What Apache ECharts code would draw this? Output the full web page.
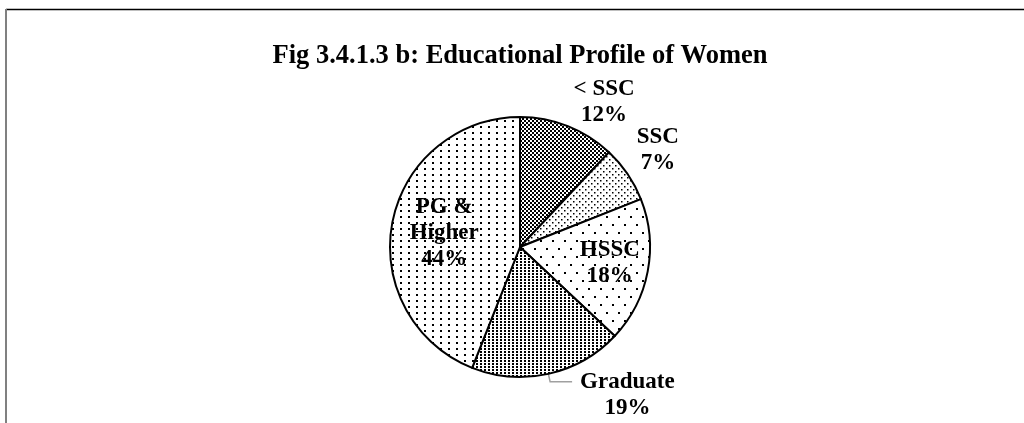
<!DOCTYPE html>
<html><head><meta charset="utf-8">
<script src="https://cdn.jsdelivr.net/npm/echarts@6/dist/echarts.min.js"></script>
<style>html,body{margin:0;padding:0;background:#fff}#c{width:1024px;height:423px}</style>
</head><body><div id="c"></div>
<script>
const titleText = 'Fig 3.4.1.3 b: Educational Profile of Women';
const categories = ['< SSC', 'SSC', 'HSSC', 'Graduate', 'PG & Higher'];
const labelLines = [['< SSC'], ['SSC'], ['HSSC'], ['Graduate'], ['PG &', 'Higher']];
const values = [12, 7, 18, 19, 44];

function makePattern(w, h, bg, dots) {
  const c = document.createElement('canvas');
  c.width = w; c.height = h;
  const g = c.getContext('2d');
  g.fillStyle = bg; g.fillRect(0, 0, w, h);
  g.fillStyle = '#000';
  dots.forEach(d => g.fillRect(d[0], d[1], d[2], d[3]));
  return { image: c, repeat: 'repeat' };
}
const patterns = [
  makePattern(4, 4, '#fff', [[0, 0, 2, 2], [2, 2, 2, 2], [1, 1, 1, 1]]),
  makePattern(6, 6, '#fff', [[0, 0, 1.5, 1.5], [3, 3, 1.5, 1.5]]),
  makePattern(12, 16, '#fff', [[0, 0, 2, 2], [6, 8, 2, 2]]),
  makePattern(4, 3, '#fff', [[0, 0, 2, 2]]),
  makePattern(8, 6, '#fff', [[0, 0, 2, 2]])
];
const labelSetup = [
  { position: 'outside', offset: [0, -15], lineShow: false, len: 10, len2: 0, dist: 2 },
  { position: 'outside', offset: [0, -18], lineShow: false, len: 10, len2: 0, dist: 1 },
  { position: 'inside', offset: [23, 3] },
  { position: 'outside', offset: [0, 13], lineShow: true, len: 8, len2: 22, dist: 8 },
  { position: 'inside', offset: [-9, -1] }
];

const font = { fontFamily: 'Liberation Serif', fontWeight: 'bold', fontSize: 23, lineHeight: 26, color: '#000' };

const data = categories.map((name, i) => {
  const s = labelSetup[i];
  const item = {
    name: name,
    value: values[i],
    itemStyle: { color: patterns[i], borderColor: '#000', borderWidth: 2 },
    label: {
      position: s.position,
      offset: s.offset,
      formatter: () => labelLines[i].concat([values[i] + '%']).map(t => '{c|' + t + '}').join('\n'),
      rich: { c: Object.assign({ align: 'center' }, font) }
    }
  };
  if (s.position === 'outside') {
    item.label.distanceToLabelLine = s.dist;
    item.labelLine = { show: s.lineShow, length: s.len, length2: s.len2, lineStyle: { color: '#a0a0a0', width: 1.5 } };
  }
  return item;
});

const chart = echarts.init(document.getElementById('c'), null, { renderer: 'canvas' });
chart.setOption({
  animation: false,
  backgroundColor: '#fff',
  title: {
    text: titleText,
    left: 515, textAlign: 'center', top: 38,
    textStyle: { fontFamily: 'Liberation Serif', fontWeight: 'bold', fontSize: 26.5, color: '#000' }
  },
  graphic: [
    { type: 'line', shape: { x1: 6, y1: 9.5, x2: 1024, y2: 9.5 }, style: { stroke: '#000', lineWidth: 1.5 } },
    { type: 'line', shape: { x1: 6, y1: 9, x2: 6, y2: 423 }, style: { stroke: '#808080', lineWidth: 2 } }
  ],
  series: [{
    type: 'pie',
    center: [520, 247],
    radius: 130,
    startAngle: 90,
    clockwise: true,
    avoidLabelOverlap: false,
    label: { show: true, textStyle: font },
    emphasis: { disabled: true },
    data: data
  }]
});
</script></body></html>
